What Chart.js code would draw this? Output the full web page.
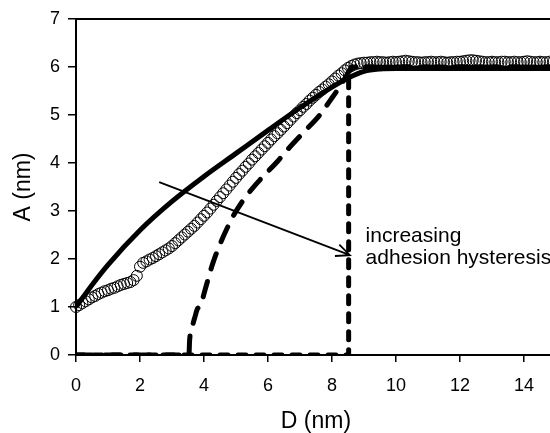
<!DOCTYPE html>
<html>
<head>
  <meta charset="utf-8">
  <script src="https://cdn.jsdelivr.net/npm/chart.js"></script>
  <style>
    html, body {
      margin: 0; padding: 0;
      width: 550px; height: 433px;
      overflow: hidden;
      background: #fff;
    }
    canvas { display: block; }
  </style>
</head>
<body>
  <canvas id="adhesionChart" width="600" height="433"></canvas>

  <script>
    // measured approach curve (open circles)
    const circleD = [
      0.0, 0.1, 0.2, 0.3, 0.4, 0.5, 0.6, 0.7, 0.8, 0.9,
      1.0, 1.1, 1.2, 1.3, 1.4, 1.5, 1.6, 1.7, 1.8, 1.9,
      2.0, 2.1, 2.2, 2.3, 2.4, 2.5, 2.6, 2.7, 2.8, 2.9,
      3.0, 3.1, 3.2, 3.3, 3.4, 3.5, 3.6, 3.7, 3.8, 3.9,
      4.0, 4.1, 4.2, 4.3, 4.4, 4.5, 4.6, 4.7, 4.8, 4.9,
      5.0, 5.1, 5.2, 5.3, 5.4, 5.5, 5.6, 5.7, 5.8, 5.9,
      6.0, 6.1, 6.2, 6.3, 6.4, 6.5, 6.6, 6.7, 6.8, 6.9,
      7.0, 7.1, 7.2, 7.3, 7.4, 7.5, 7.6, 7.7, 7.8, 7.9,
      8.0, 8.1, 8.2, 8.3, 8.4, 8.5, 8.6, 8.7, 8.8, 8.9,
      9.0, 9.1, 9.2, 9.3, 9.4, 9.5, 9.6, 9.7, 9.8, 9.9,
      10.0, 10.1, 10.2, 10.3, 10.4, 10.5, 10.6, 10.7, 10.8, 10.9,
      11.0, 11.1, 11.2, 11.3, 11.4, 11.5, 11.6, 11.7, 11.8, 11.9,
      12.0, 12.1, 12.2, 12.3, 12.4, 12.5, 12.6, 12.7, 12.8, 12.9,
      13.0, 13.1, 13.2, 13.3, 13.4, 13.5, 13.6, 13.7, 13.8, 13.9,
      14.0, 14.1, 14.2, 14.3, 14.4, 14.5, 14.6, 14.7, 14.8, 14.9,
      15.0
    ];
    const circleA = [
      1.00, 1.04, 1.08, 1.12, 1.16, 1.20, 1.23, 1.27, 1.30, 1.33,
      1.35, 1.38, 1.40, 1.43, 1.46, 1.48, 1.50, 1.52, 1.56, 1.65,
      1.84, 1.92, 1.95, 1.99, 2.02, 2.06, 2.10, 2.14, 2.18, 2.22,
      2.27, 2.33, 2.39, 2.45, 2.51, 2.57, 2.63, 2.69, 2.76, 2.83,
      2.90, 2.97, 3.05, 3.13, 3.21, 3.29, 3.37, 3.45, 3.53, 3.61,
      3.69, 3.77, 3.84, 3.92, 3.99, 4.07, 4.14, 4.21, 4.28, 4.35,
      4.42, 4.49, 4.56, 4.62, 4.69, 4.76, 4.83, 4.90, 4.97, 5.04,
      5.10, 5.17, 5.23, 5.30, 5.36, 5.42, 5.48, 5.53, 5.59, 5.64,
      5.70, 5.76, 5.82, 5.87, 5.93, 5.98, 6.02, 6.05, 6.07, 6.08,
      6.09, 6.09, 6.10, 6.10, 6.11, 6.10, 6.10, 6.09, 6.10, 6.11,
      6.10, 6.11, 6.12, 6.13, 6.12, 6.11, 6.10, 6.10, 6.09, 6.10,
      6.10, 6.11, 6.10, 6.10, 6.11, 6.10, 6.09, 6.10, 6.10, 6.11,
      6.11, 6.12, 6.13, 6.14, 6.14, 6.13, 6.12, 6.11, 6.10, 6.10,
      6.11, 6.10, 6.10, 6.11, 6.11, 6.10, 6.10, 6.11, 6.10, 6.10,
      6.11, 6.12, 6.11, 6.10, 6.10, 6.11, 6.10, 6.10, 6.11, 6.10,
      6.10
    ];

    // no adhesion (solid)
    const solidD = [0, 0.5, 1, 2, 3, 4, 5, 6, 7, 8, 8.5, 9, 9.5, 10, 15];
    const solidA = [1.0, 1.46, 1.88, 2.6, 3.2, 3.72, 4.2, 4.68, 5.15, 5.58, 5.77, 5.91, 5.96, 5.97, 5.97];

    // moderate adhesion (long dashes)
    const longDashD = [0, 3.53, 3.55, 3.62, 3.72, 3.8, 3.87, 4.03, 4.28, 4.8, 5.2, 5.75, 6.28, 6.6, 7.1, 7.62, 7.94, 8.2, 8.42, 8.55, 8.7, 9, 15];
    const longDashA = [0, 0, 0.3, 0.55, 0.8, 0.97, 1.0, 1.35, 1.92, 2.75, 3.2, 3.65, 4.02, 4.27, 4.63, 5.0, 5.3, 5.55, 5.78, 5.93, 5.98, 6.0, 6.0];

    // strong adhesion (short dashes)
    const shortDashD = [0, 8.52, 8.52, 8.6, 9, 15];
    const shortDashA = [0, 0, 5.9, 6.0, 6.0, 6.0];

    const xTickValues = [0, 2, 4, 6, 8, 10, 12, 14];
    const arrowFrom = [2.6, 3.6];
    const arrowTo = [8.56, 2.08];
    const noteLines = ['increasing', 'adhesion hysteresis'];

    const pts = (xs, ys) => xs.map((x, i) => ({ x: x, y: ys[i] }));

    Chart.defaults.font.family = '"Liberation Sans", Arial, sans-serif';
    Chart.defaults.color = '#000';

    // plot frame, arrow and the note text
    const extras = {
      id: 'extras',
      afterDatasetsDraw(chart) {
        const { ctx, chartArea: a, scales: { x, y } } = chart;
        ctx.save();
        ctx.strokeStyle = '#000';
        ctx.lineWidth = 2;
        ctx.beginPath();
        ctx.moveTo(a.left, a.top);
        ctx.lineTo(a.right, a.top);
        ctx.lineTo(a.right, a.bottom);
        ctx.stroke();

        const x0 = x.getPixelForValue(arrowFrom[0]), y0 = y.getPixelForValue(arrowFrom[1]);
        const x1 = x.getPixelForValue(arrowTo[0]), y1 = y.getPixelForValue(arrowTo[1]);
        ctx.lineWidth = 1.8;
        ctx.beginPath();
        ctx.moveTo(x0, y0);
        ctx.lineTo(x1, y1);
        const ang = Math.atan2(y1 - y0, x1 - x0);
        const len = 15, spread = 0.42;
        ctx.moveTo(x1 - len * Math.cos(ang - spread), y1 - len * Math.sin(ang - spread));
        ctx.lineTo(x1, y1);
        ctx.lineTo(x1 - len * Math.cos(ang + spread), y1 - len * Math.sin(ang + spread));
        ctx.stroke();

        ctx.fillStyle = '#000';
        ctx.font = '21px "Liberation Sans", Arial, sans-serif';
        ctx.textBaseline = 'alphabetic';
        ctx.textAlign = 'left';
        const tx = x.getPixelForValue(9.05);
        const ty = y.getPixelForValue(2.35);
        noteLines.forEach((t, i) => ctx.fillText(t, tx, ty + i * 22));
        ctx.restore();
      }
    };

    new Chart(document.getElementById('adhesionChart'), {
      type: 'scatter',
      data: {
        datasets: [
          {
            label: 'measured',
            data: pts(circleD, circleA),
            showLine: false,
            pointStyle: 'circle',
            pointRadius: 5.5,
            pointBorderWidth: 1,
            pointBorderColor: '#000',
            pointBackgroundColor: 'rgba(255,255,255,0)',
            clip: false,
            order: 0
          },
          {
            label: 'strong',
            data: pts(shortDashD, shortDashA),
            showLine: true,
            borderColor: '#000',
            borderWidth: 5,
            borderDash: [8, 10],
            borderCapStyle: 'round',
            tension: 0,
            pointRadius: 0,
            order: 1
          },
          {
            label: 'moderate',
            data: pts(longDashD, longDashA),
            showLine: true,
            borderColor: '#000',
            borderWidth: 5,
            borderDash: [16, 13],
            borderCapStyle: 'round',
            tension: 0.3,
            cubicInterpolationMode: 'monotone',
            pointRadius: 0,
            order: 2
          },
          {
            label: 'none',
            data: pts(solidD, solidA),
            showLine: true,
            borderColor: '#000',
            borderWidth: 5,
            tension: 0.4,
            cubicInterpolationMode: 'monotone',
            pointRadius: 0,
            order: 3
          }
        ]
      },
      options: {
        responsive: false,
        animation: false,
        devicePixelRatio: 1,
        layout: { padding: { top: 19, right: 44, left: 0, bottom: 0 } },
        plugins: {
          legend: { display: false },
          tooltip: { enabled: false }
        },
        scales: {
          x: {
            type: 'linear',
            min: 0,
            max: 15,
            afterFit: s => { s.height = 78; },
            afterBuildTicks: s => { s.ticks = xTickValues.map(v => ({ value: v })); },
            ticks: { font: { size: 18 }, padding: 13, maxRotation: 0 },
            grid: { drawOnChartArea: false, drawTicks: true, tickLength: 7, color: '#000', lineWidth: 1.5 },
            border: { display: true, color: '#000', width: 2 },
            title: { display: true, text: 'D (nm)', font: { size: 23, lineHeight: 1 }, padding: { top: 0, bottom: 0 } }
          },
          y: {
            min: 0,
            max: 7,
            afterFit: s => { s.width = 76; },
            ticks: { stepSize: 1, font: { size: 18 }, padding: 8 },
            grid: { drawOnChartArea: false, drawTicks: true, tickLength: 8, color: '#000', lineWidth: 1.5 },
            border: { display: true, color: '#000', width: 2 },
            title: { display: true, text: 'A (nm)', font: { size: 23, lineHeight: 1 }, padding: { top: 12, bottom: 0 } }
          }
        }
      },
      plugins: [extras]
    });
  </script>
</body>
</html>
